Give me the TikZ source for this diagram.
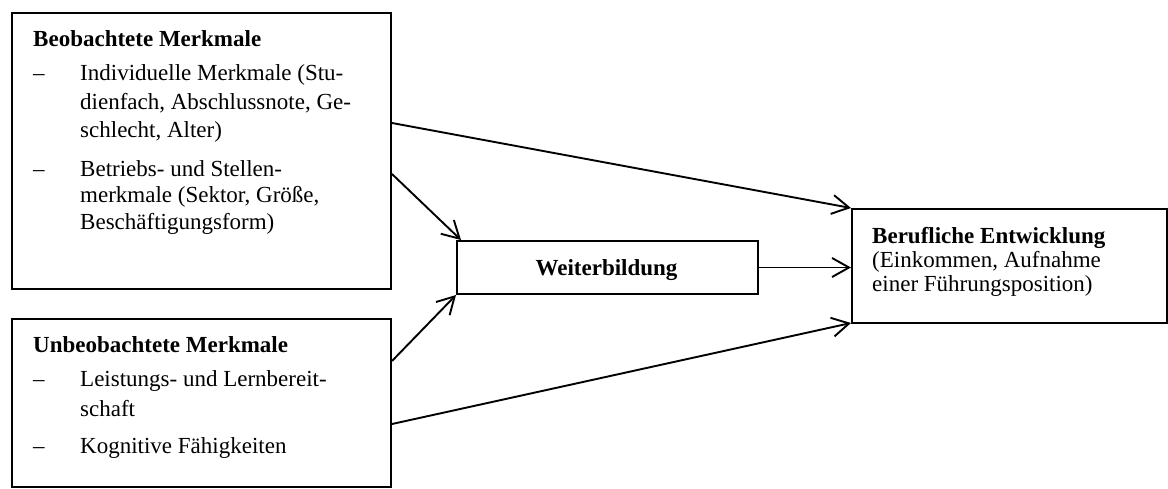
\documentclass[tikz,border=0pt]{standalone}
\usepackage{fontspec}
\setmainfont{Liberation Serif}
\usetikzlibrary{arrows.meta}
\begin{document}
\begin{tikzpicture}[x=1pt,y=-1pt,
  box/.style={draw,line width=2pt,inner sep=0pt},
  txt/.style={anchor=base west,inner sep=0pt,font=\fontsize{23}{28}\selectfont},
  hd/.style={txt,font=\fontsize{23}{28}\selectfont\bfseries},
  arr/.style={line width=1.9pt,-{Straight Barb[length=17pt,width=19pt,line width=1.9pt]}}]
\useasboundingbox (0,0) rectangle (1168,488);
% boxes
\node[box,minimum width=379pt,minimum height=276pt,anchor=north west] (obs) at (11,12) {};
\node[box,minimum width=379pt,minimum height=168pt,anchor=north west] (unobs) at (11,318) {};
\node[box,minimum width=301pt,minimum height=53pt,anchor=north west] (wb) at (456,240) {};
\node[box,minimum width=315pt,minimum height=114pt,anchor=north west] (ber) at (851,208) {};
% texts box 1
\node[hd] (t1) at (33,46) {Beobachtete Merkmale};
\node[txt] (d1) at (33,80) {–};
\node[txt] (t2) at (80,80) {Individuelle Merkmale (Stu-};
\node[txt] (t3) at (80,109) {dienfach, Abschlussnote, Ge-};
\node[txt] (t4) at (80,137) {schlecht, Alter)};
\node[txt] (d2) at (33,176) {–};
\node[txt] (t5) at (80,176) {Betriebs- und Stellen-};
\node[txt] (t6) at (80,202) {merkmale (Sektor, Größe,};
\node[txt] (t7) at (80,229) {Beschäftigungsform)};
% texts box 2
\node[hd] (u1) at (33,352) {Unbeobachtete Merkmale};
\node[txt] (e1) at (33,386) {–};
\node[txt] (u2) at (80,386) {Leistungs- und Lernbereit-};
\node[txt] (u3) at (80,416) {schaft};
\node[txt] (e2) at (33,453) {–};
\node[txt] (u4) at (80,453) {Kognitive Fähigkeiten};
% Weiterbildung
\node[hd,anchor=base] (w1) at (606.5,275) {Weiterbildung};
% Berufliche
\node[hd] (b1) at (872,243) {Berufliche Entwicklung};
\node[txt] (b2) at (872,267) {(Einkommen, Aufnahme};
\node[txt] (b3) at (872,291) {einer Führungsposition)};
% arrows
\draw[arr] (obs.east |- 0,123) -- (ber.north west);
\draw[arr] (obs.east |- 0,174) -- ([xshift=5pt]wb.north west);
\draw[arr] (unobs.east |- 0,361) -- (wb.south west);
\draw[arr] (unobs.east |- 0,424) -- ([yshift=1pt]ber.south west);
\draw[arr] (wb.east) -- (ber.west |- wb.east);
\end{tikzpicture}
\end{document}
